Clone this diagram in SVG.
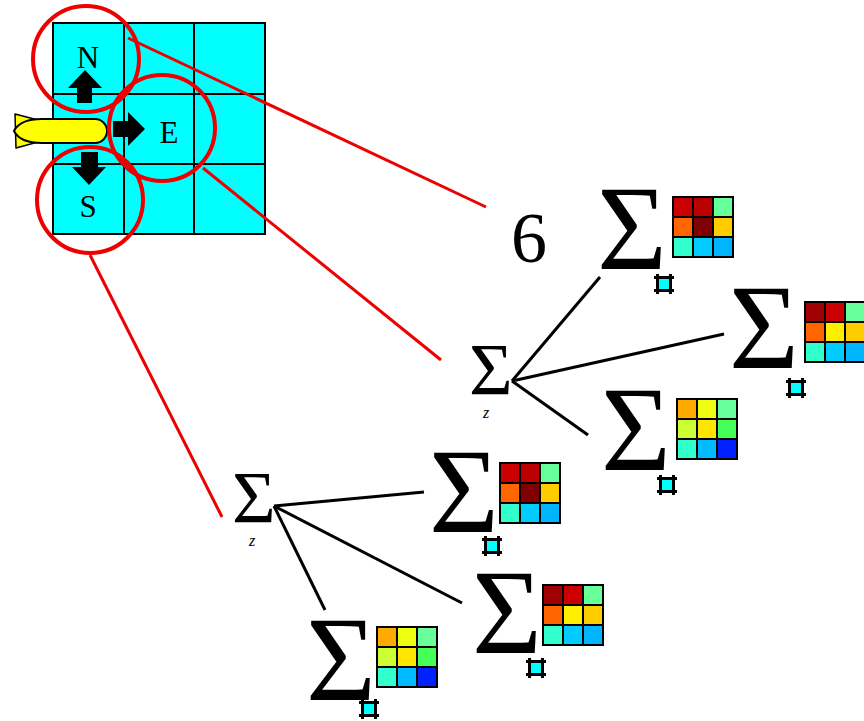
<svg xmlns="http://www.w3.org/2000/svg" width="864" height="721" viewBox="0 0 864 721">
  <style>
    .cell { fill: #00FFFF; stroke: #000; stroke-width: 2; }
    .gline { stroke: #000; stroke-width: 2; }
    .ring { fill: none; stroke: #EE0000; stroke-width: 4; }
    .ray { stroke: #EE0000; stroke-width: 3; fill: none; }
    .edge { stroke: #000; stroke-width: 3; fill: none; }
    .arrow { fill: #000; }
    .dir { font-family: "Liberation Serif", "Times New Roman", serif; font-size: 31px; text-anchor: middle; fill: #000; }
    .big { font-family: "Liberation Serif", "Times New Roman", serif; font-size: 120px; fill: #000; }
    .small { font-family: "Liberation Serif", "Times New Roman", serif; font-size: 75px; fill: #000; }
    .sub { font-size: 16px; font-style: italic; }
    .num { font-family: "Liberation Serif", "Times New Roman", serif; font-size: 72px; text-anchor: middle; fill: #000; }
    .m rect { stroke: #000; stroke-width: 2; }
    .icon rect { fill: #00FFFF; stroke: #000; stroke-width: 3; }
    .icon path { stroke: #000; stroke-width: 3; fill: none; }
  </style>
  <defs>
    <g id="cellIcon" class="icon">
      <path d="M-10,-6.5H10M-10,6.5H10M-6.5,-10V10M6.5,-10V10"/>
      <rect x="-6.5" y="-6.5" width="13" height="13"/>
    </g>
    <!-- 3x3 value maps -->
    <g id="mapA" class="m">
      <rect x="0" y="0" width="20" height="20" fill="#CC0000"/>
      <rect x="20" y="0" width="20" height="20" fill="#BB0000"/>
      <rect x="40" y="0" width="20" height="20" fill="#66FF99"/>
      <rect x="0" y="20" width="20" height="20" fill="#FF6600"/>
      <rect x="20" y="20" width="20" height="20" fill="#800000"/>
      <rect x="40" y="20" width="20" height="20" fill="#FFCC00"/>
      <rect x="0" y="40" width="20" height="20" fill="#33FFCC"/>
      <rect x="20" y="40" width="20" height="20" fill="#00CCFF"/>
      <rect x="40" y="40" width="20" height="20" fill="#00B4FF"/>
    </g>
    <g id="mapB" class="m">
      <rect x="0" y="0" width="20" height="20" fill="#A00000"/>
      <rect x="20" y="0" width="20" height="20" fill="#CC0000"/>
      <rect x="40" y="0" width="20" height="20" fill="#66FF99"/>
      <rect x="0" y="20" width="20" height="20" fill="#FF6600"/>
      <rect x="20" y="20" width="20" height="20" fill="#FFEE00"/>
      <rect x="40" y="20" width="20" height="20" fill="#FFCC00"/>
      <rect x="0" y="40" width="20" height="20" fill="#33FFCC"/>
      <rect x="20" y="40" width="20" height="20" fill="#00CCFF"/>
      <rect x="40" y="40" width="20" height="20" fill="#00B4FF"/>
    </g>
    <g id="mapC" class="m">
      <rect x="0" y="0" width="20" height="20" fill="#FFAA00"/>
      <rect x="20" y="0" width="20" height="20" fill="#EEFF11"/>
      <rect x="40" y="0" width="20" height="20" fill="#66FF99"/>
      <rect x="0" y="20" width="20" height="20" fill="#CCFF33"/>
      <rect x="20" y="20" width="20" height="20" fill="#FFE600"/>
      <rect x="40" y="20" width="20" height="20" fill="#44FF55"/>
      <rect x="0" y="40" width="20" height="20" fill="#33FFCC"/>
      <rect x="20" y="40" width="20" height="20" fill="#00BBFF"/>
      <rect x="40" y="40" width="20" height="20" fill="#0022FF"/>
    </g>
  </defs>

  <!-- 3x3 world grid with the agent -->
  <g id="world">
    <rect class="cell" x="53" y="23" width="212" height="211"/>
    <path class="gline" d="M124,23V234M194,23V234M53,94H265M53,164H265"/>
  </g>

  <g id="agent">
    <polygon points="15,114 38,120 38,142 16,148" fill="#FFFF00" stroke="#000" stroke-width="1.5" stroke-linejoin="round"/>
    <path d="M14,131 C18,123 28,119 42,119 H95 A12,12 0 0 1 95,143 H42 C28,143 18,139 14,131 Z" fill="#FFFF00" stroke="#000" stroke-width="2"/>
  </g>

  <g id="moves">
    <polygon class="arrow" points="77,103 92,103 92,88 102,88 85,70 68,88 77,88"/>
    <polygon class="arrow" points="113,121 128,121 128,112 145,129 128,146 128,137 113,137"/>
    <polygon class="arrow" points="81,152 98,152 98,167 106,167 89,185 72,167 81,167"/>
    <text class="dir" x="88" y="68">N</text>
    <text class="dir" x="169" y="143">E</text>
    <text class="dir" x="88" y="217">S</text>
  </g>

  <g id="highlights">
    <circle class="ring" cx="86" cy="59" r="53"/>
    <circle class="ring" cx="162" cy="128" r="53"/>
    <circle class="ring" cx="90" cy="200" r="53"/>
  </g>

  <!-- connectors -->
  <g id="connectors">
    <line class="ray" x1="128" y1="38" x2="486" y2="207"/>
    <line class="ray" x1="203" y1="168" x2="441" y2="360"/>
    <line class="ray" x1="90" y1="255" x2="222" y2="517"/>
    <line class="edge" x1="512" y1="381" x2="600" y2="277"/>
    <line class="edge" x1="512" y1="381" x2="724" y2="334"/>
    <line class="edge" x1="512" y1="381" x2="588" y2="435"/>
    <line class="edge" x1="274" y1="506" x2="424" y2="492"/>
    <line class="edge" x1="274" y1="506" x2="462" y2="603"/>
    <line class="edge" x1="274" y1="506" x2="325" y2="610"/>
  </g>

  <g id="north-value">
    <text class="num" x="529" y="262">6</text>
  </g>

  <g id="east-sum">
    <text class="small" x="469" y="395">Σ<tspan class="sub" x="483" y="418">z</tspan></text>
  </g>

  <g id="south-sum">
    <text class="small" x="232" y="523">Σ<tspan class="sub" x="249" y="546">z</tspan></text>
  </g>

  <g id="term-a">
    <text class="big" x="597" y="269">Σ</text>
    <use href="#mapA" x="673" y="197"/>
    <use href="#cellIcon" x="664" y="284"/>
  </g>

  <g id="term-b">
    <text class="big" x="729" y="368">Σ</text>
    <use href="#mapB" x="805" y="302"/>
    <use href="#cellIcon" x="796" y="388"/>
  </g>

  <g id="term-c">
    <text class="big" x="601" y="470">Σ</text>
    <use href="#mapC" x="677" y="399"/>
    <use href="#cellIcon" x="667" y="485"/>
  </g>

  <g id="term-d">
    <text class="big" x="429" y="532">Σ</text>
    <use href="#mapA" x="500" y="463"/>
    <use href="#cellIcon" x="492" y="546"/>
  </g>

  <g id="term-e">
    <text class="big" x="472" y="653">Σ</text>
    <use href="#mapB" x="543" y="585"/>
    <use href="#cellIcon" x="536" y="668"/>
  </g>

  <g id="term-f">
    <text class="big" x="306" y="700">Σ</text>
    <use href="#mapC" x="377" y="627"/>
    <use href="#cellIcon" x="369" y="709"/>
  </g>
</svg>
